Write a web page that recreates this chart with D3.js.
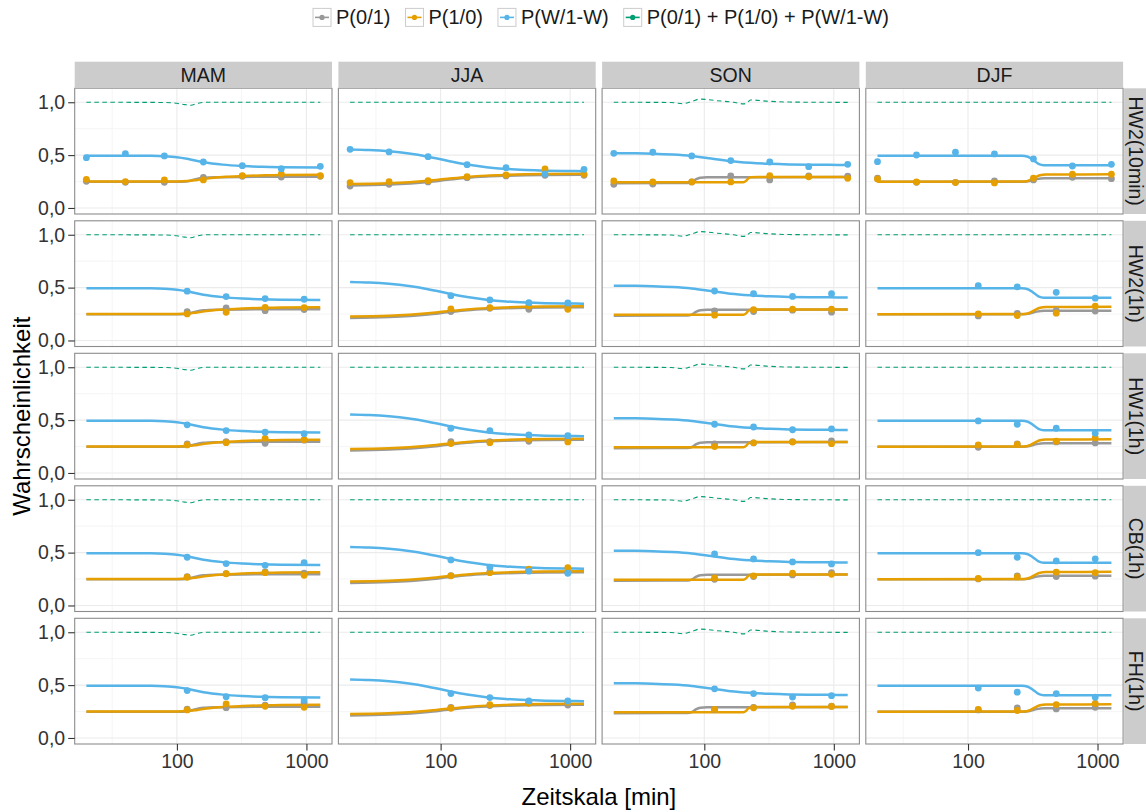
<!DOCTYPE html>
<html><head><meta charset="utf-8">
<script src="https://cdn.jsdelivr.net/npm/d3@7"></script>
<style>body{margin:0;background:#fff}</style>
</head><body><svg id="c" width="1146" height="812"></svg>
<script>
// ---------- data ----------
const seasons = ["MAM", "JJA", "SON", "DJF"];
const stations = ["HW2(10min)", "HW2(1h)", "HW1(1h)", "CB(1h)", "FH(1h)"];
const seriesNames = ["P(0/1)", "P(1/0)", "P(W/1-W)", "P(0/1) + P(1/0) + P(W/1-W)"];
const xTicks = [100, 1000];
const xTickLabels = ["100", "1000"];
const yTicks = [0, 0.5, 1];
const yTickLabels = ["0,0", "0,5", "1,0"];
const xPts10min = [20, 40, 80, 160, 320, 640, 1280];
const xPts1h = [120, 240, 480, 960];

// fitted curves per season: [minutes, probability]
const mamGrey = [[20,.248],[110,.249],[125,.256],[140,.273],[160,.285],[200,.291],[320,.294],[1280,.296]];
const mamOrange = [[20,.25],[100,.251],[120,.254],[140,.263],[170,.278],[240,.295],[320,.302],[480,.309],[640,.312],[1280,.315]];
const mamBlue = [[20,.495],[40,.495],[63,.493],[80,.489],[100,.48],[120,.465],[160,.433],[226,.41],[320,.397],[453,.389],[640,.385],[1280,.382]];
const mamSum = [[20,1.0],[80,.998],[100,.99],[115,.978],[128,.972],[145,.99],[165,1.0],[1280,1.0]];

const jjaGrey = [[20,.213],[40,.221],[80,.245],[113,.266],[160,.286],[226,.298],[320,.305],[453,.31],[640,.313],[1280,.315]];
const jjaOrange = [[20,.227],[40,.234],[80,.257],[113,.276],[160,.294],[226,.306],[320,.313],[453,.318],[640,.321],[1280,.323]];
const jjaBlue = [[20,.553],[28,.548],[40,.536],[57,.515],[80,.485],[113,.447],[160,.411],[226,.386],[320,.369],[453,.359],[640,.353],[905,.35],[1280,.348]];
const jjaSum = [[20,1.0],[160,1.0],[1280,1.0]];

const sonGrey = [[20,.234],[74,.236],[80,.245],[86,.27],[93,.286],[105,.29],[1280,.292]];
const sonOrange = [[20,.243],[200,.244],[210,.256],[218,.278],[228,.29],[260,.292],[1280,.293]];
const sonBlue = [[20,.518],[28,.517],[40,.514],[57,.506],[80,.492],[113,.468],[160,.443],[226,.428],[320,.418],[453,.412],[640,.409],[905,.408],[1280,.407]];
const sonSum = [[20,1.0],[55,.998],[68,.986],[80,1.008],[92,1.03],[125,1.015],[168,1.0],[200,.985],[212,.99],[227,1.022],[300,1.011],[440,1.002],[1280,.999]];

const djfGrey = [[20,.248],[270,.249],[300,.256],[340,.273],[390,.28],[1280,.281]];
const djfOrange = [[20,.249],[270,.25],[300,.262],[330,.29],[360,.31],[400,.316],[1280,.318]];
const djfBlue = [[20,.495],[260,.494],[290,.485],[320,.452],[350,.418],[385,.405],[1280,.404]];
const djfSum = [[20,1.0],[300,1.0],[1280,1.0]];

// observed points per season, one row per station (row 1: 10-min steps, others: 1-h steps)
const mamPtsGrey = [[.252,.243,.243,.29,.30,.293,.30],[.273,.308,.282,.292],[.275,.297,.281,.31],[.273,.301,.317,.305],[.272,.287,.31,.335]];
const mamPtsOrange = [[.271,.25,.265,.265,.306,.322,.305],[.251,.267,.314,.311],[.265,.287,.328,.315],[.267,.30,.31,.286],[.265,.322,.30,.29]];
const mamPtsBlue = [[.476,.514,.492,.435,.40,.372,.394],[.466,.415,.396,.39],[.455,.401,.385,.372],[.456,.396,.38,.405],[.448,.391,.381,.36]];

const jjaPtsGrey = [[.208,.224,.246,.287,.303,.309,.309],[.273,.305,.295,.317],[.297,.297,.30,.319],[.282,.317,.33,.311],[.29,.306,.338,.312]];
const jjaPtsOrange = [[.24,.249,.258,.296,.312,.369,.319],[.298,.31,.327,.295],[.278,.287,.319,.294],[.28,.31,.343,.358],[.281,.315,.328,.338]];
const jjaPtsBlue = [[.555,.53,.485,.41,.381,.322,.366],[.424,.384,.358,.355],[.423,.401,.36,.353],[.431,.362,.324,.305],[.42,.382,.35,.35]];

const sonPtsGrey = [[.224,.227,.246,.303,.265,.303,.30],[.28,.274,.287,.268],[.275,.285,.296,.303],[.248,.273,.289,.311],[.268,.29,.313,.30]];
const sonPtsOrange = [[.255,.246,.246,.246,.306,.295,.28],[.239,.291,.296,.296],[.25,.285,.292,.277],[.26,.28,.305,.295],[.27,.285,.30,.298]];
const sonPtsBlue = [[.517,.527,.492,.448,.435,.391,.413],[.468,.442,.417,.442],[.461,.435,.409,.417],[.488,.44,.412,.393],[.465,.42,.387,.40]];

const djfPtsGrey = [[.281,.243,.243,.255,.265,.29,.277],[.232,.256,.283,.278],[.243,.275,.294,.284],[.251,.279,.274,.277],[.265,.284,.275,.29]];
const djfPtsOrange = [[.274,.246,.24,.237,.281,.319,.319],[.251,.236,.258,.325],[.265,.27,.30,.334],[.255,.27,.315,.31],[.27,.26,.316,.326]];
const djfPtsBlue = [[.438,.501,.527,.511,.464,.397,.413],[.518,.507,.455,.40],[.492,.461,.423,.376],[.499,.455,.421,.441],[.472,.433,.42,.385]];

// ---------- assemble ----------
const colors = ["#999999", "#E69F00", "#56B4E9", "#009E73"];
const fits = {
  MAM: [mamGrey, mamOrange, mamBlue, mamSum],
  JJA: [jjaGrey, jjaOrange, jjaBlue, jjaSum],
  SON: [sonGrey, sonOrange, sonBlue, sonSum],
  DJF: [djfGrey, djfOrange, djfBlue, djfSum]
};
const pts = {
  MAM: [mamPtsGrey, mamPtsOrange, mamPtsBlue],
  JJA: [jjaPtsGrey, jjaPtsOrange, jjaPtsBlue],
  SON: [sonPtsGrey, sonPtsOrange, sonPtsBlue],
  DJF: [djfPtsGrey, djfPtsOrange, djfPtsBlue]
};

const FONT = "'Liberation Sans', Arial, Helvetica, sans-serif";
const svg = d3.select("#c").style("font-family", FONT);

const L = 74.7, PW = 257.3, CS = 263.7, T = 88.3, PH = 125.7, RS = 132.5;
const x = d3.scaleLog().domain([Math.pow(10, 1.210721), Math.pow(10, 3.197519)]).range([0, PW]);
const y = d3.scaleLinear().domain([-0.057, 1.132]).range([PH, 0]);
const line = d3.line().x(d => x(d[0])).y(d => y(d[1])).curve(d3.curveMonotoneX);

stations.forEach((st, r) => {
  seasons.forEach((se, c) => {
    const g = svg.append("g").attr("transform", `translate(${L + c * CS},${T + r * RS})`);
    g.append("rect").attr("width", PW).attr("height", PH).attr("fill", "#fff");
    // minor grid
    [Math.pow(10, 1.5), Math.pow(10, 2.5)].forEach(v => g.append("line")
      .attr("x1", x(v)).attr("x2", x(v)).attr("y1", 0).attr("y2", PH)
      .attr("stroke", "#f4f4f4").attr("stroke-width", 0.9));
    [0.25, 0.75].forEach(v => g.append("line")
      .attr("y1", y(v)).attr("y2", y(v)).attr("x1", 0).attr("x2", PW)
      .attr("stroke", "#f4f4f4").attr("stroke-width", 0.9));
    // major grid
    xTicks.forEach(v => g.append("line")
      .attr("x1", x(v)).attr("x2", x(v)).attr("y1", 0).attr("y2", PH)
      .attr("stroke", "#ebebeb").attr("stroke-width", 1.1));
    yTicks.forEach(v => g.append("line")
      .attr("y1", y(v)).attr("y2", y(v)).attr("x1", 0).attr("x2", PW)
      .attr("stroke", "#ebebeb").attr("stroke-width", 1.1));
    // fitted lines
    fits[se].forEach((f, k) => {
      const p = g.append("path").attr("d", line(f)).attr("fill", "none")
        .attr("stroke", colors[k]);
      if (k === 3) p.attr("stroke-width", 1.1).attr("stroke-dasharray", "4.5,3.5");
      else p.attr("stroke-width", 2.5).attr("stroke-linejoin", "round");
    });
    // points
    const xs = r === 0 ? xPts10min : xPts1h;
    pts[se].forEach((arr, k) => {
      arr[r].forEach((v, i) => g.append("circle")
        .attr("cx", x(xs[i])).attr("cy", y(v)).attr("r", 3.4).attr("fill", colors[k]));
    });
    // border
    g.append("rect").attr("width", PW).attr("height", PH).attr("fill", "none")
      .attr("stroke", "#8c8c8c").attr("stroke-width", 1.1);

    // y axis (left column)
    if (c === 0) {
      const ax = g.append("g").call(d3.axisLeft(y).tickValues(yTicks)
        .tickFormat((d, i) => yTickLabels[i]).tickSize(6.5).tickPadding(3));
      ax.select(".domain").remove();
      ax.selectAll("line").attr("stroke", "#333").attr("stroke-width", 1.1);
      ax.selectAll("text").attr("fill", "#333").style("font-size", "19.5px").style("font-family", FONT);
    }
    // x axis (bottom row)
    if (r === stations.length - 1) {
      const ax = g.append("g").attr("transform", `translate(0,${PH})`)
        .call(d3.axisBottom(x).tickValues(xTicks).tickFormat((d, i) => xTickLabels[i])
          .tickSize(6.5).tickPadding(4));
      ax.select(".domain").remove();
      ax.selectAll("line").attr("stroke", "#333").attr("stroke-width", 1.1);
      ax.selectAll("text").attr("fill", "#333").style("font-size", "19.5px").style("font-family", FONT);
    }
  });
});

// column strips
seasons.forEach((se, c) => {
  svg.append("rect").attr("x", L + c * CS).attr("y", 61.7).attr("width", PW).attr("height", 26.6)
    .attr("fill", "#cccccc");
  svg.append("text").attr("x", L + c * CS + PW / 2).attr("y", 75).attr("text-anchor", "middle")
    .attr("dominant-baseline", "central").attr("fill", "#1a1a1a").style("font-size", "19.5px").text(se);
});
// row strips
stations.forEach((st, r) => {
  const x0 = L + 3 * CS + PW + 1;
  svg.append("rect").attr("x", x0).attr("y", T + r * RS).attr("width", 26).attr("height", PH)
    .attr("fill", "#cccccc");
  svg.append("text").attr("transform", `translate(${x0 + 12},${T + r * RS + PH / 2}) rotate(90)`)
    .attr("text-anchor", "middle").attr("dominant-baseline", "central")
    .attr("fill", "#1a1a1a").style("font-size", "19.5px").text(st);
});

// axis titles
svg.append("text").attr("x", L + (3 * CS + PW) / 2).attr("y", 805).attr("text-anchor", "middle")
  .attr("fill", "#000").style("font-size", "24px").text("Zeitskala [min]");
svg.append("text").attr("transform", `translate(30,${T + (4 * RS + PH) / 2}) rotate(-90)`)
  .attr("text-anchor", "middle").attr("fill", "#000").style("font-size", "24px").text("Wahrscheinlichkeit");

// legend
const lg = svg.append("g");
const BOX = 18, GAP_A = 5, GAP_B = 15;
const items = seriesNames.map((s, k) => {
  const it = lg.append("g");
  it.append("rect").attr("width", BOX).attr("height", BOX).attr("fill", "#fff")
    .attr("stroke", "#cccccc").attr("stroke-width", 1);
  it.append("line").attr("x1", 2).attr("x2", BOX - 2).attr("y1", BOX / 2).attr("y2", BOX / 2)
    .attr("stroke", colors[k]).attr("stroke-width", 1.6);
  it.append("circle").attr("cx", BOX / 2).attr("cy", BOX / 2).attr("r", 2.6).attr("fill", colors[k]);
  const t = it.append("text").attr("x", BOX + GAP_A).attr("y", BOX / 2 + 7)
    .attr("fill", "#1a1a1a").style("font-size", "20px").text(s);
  return { it, w: BOX + GAP_A + t.node().getComputedTextLength() };
});
const total = d3.sum(items, d => d.w) + GAP_B * (items.length - 1);
let cx = 601 - total / 2;
items.forEach(d => { d.it.attr("transform", `translate(${cx},8.4)`); cx += d.w + GAP_B; });
</script></body></html>
